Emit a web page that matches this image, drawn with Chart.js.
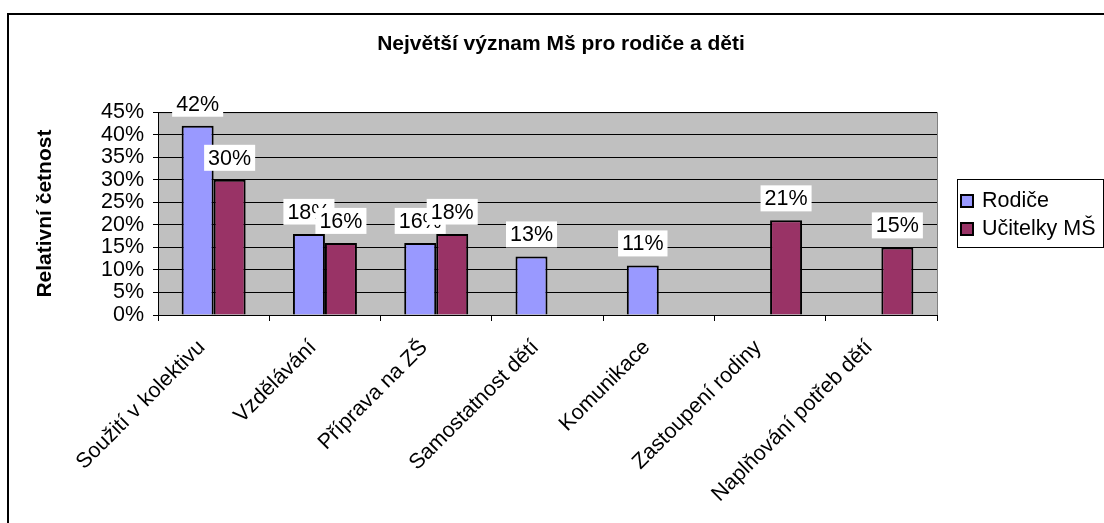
<!DOCTYPE html>
<html>
<head>
<meta charset="utf-8">
<script src="https://cdn.jsdelivr.net/npm/chart.js@4/dist/chart.umd.min.js"></script>
<style>
html,body{margin:0;padding:0;background:#fff;}
#wrap{width:1104px;height:523px;position:relative;}
</style>
</head>
<body>
<div id="wrap"><canvas id="c" width="1104" height="523"></canvas></div>
<script>
const categories = ["Soužití v kolektivu", "Vzdělávání", "Příprava na ZŠ", "Samostatnost dětí", "Komunikace", "Zastoupení rodiny", "Naplňování potřeb dětí"];
const rodice = [42, 18, 16, 13, 11, null, null];
const ucitelky = [30, 16, 18, null, null, 21, 15];
const seriesNames = ["Rodiče", "Učitelky MŠ"];
const chartTitle = "Největší význam Mš pro rodiče a děti";
const yTitle = "Relativní četnost";
const FONT = "'Liberation Sans', Arial, sans-serif";
const FS = 21.5;

const framePlugin = {
  id: 'frame',
  beforeDraw(chart) {
    const {ctx, chartArea: a} = chart;
    ctx.save();
    ctx.fillStyle = '#fff';
    ctx.fillRect(0, 0, chart.width, chart.height);
    ctx.strokeStyle = '#000';
    ctx.lineWidth = 2;
    ctx.beginPath();
    ctx.moveTo(8, chart.height + 2);
    ctx.lineTo(8, 14);
    ctx.lineTo(chart.width + 2, 14);
    ctx.stroke();
    ctx.fillStyle = '#C0C0C0';
    ctx.fillRect(a.left, a.top, a.right - a.left, a.bottom - a.top);
    ctx.strokeStyle = '#808080';
    ctx.lineWidth = 1;
    ctx.strokeRect(a.left + 0.5, a.top + 0.5, a.right - a.left, a.bottom - a.top);
    ctx.restore();
  }
};

const labelPlugin = {
  id: 'vlabels',
  afterDatasetsDraw(chart) {
    const {ctx} = chart;
    ctx.save();
    ctx.font = FS + 'px ' + FONT;
    ctx.textAlign = 'center';
    ctx.textBaseline = 'middle';
    chart.data.datasets.forEach((ds, di) => {
      const meta = chart.getDatasetMeta(di);
      meta.data.forEach((bar, i) => {
        const v = ds.data[i];
        if (v === null || v === undefined) return;
        const txt = v + '%';
        const w = ctx.measureText(txt).width + 8;
        const h = 26;
        const bottom = bar.y - 9;
        const cy = bottom - h / 2;
        ctx.fillStyle = '#fff';
        ctx.fillRect(bar.x - w / 2, bottom - h, w, h);
        ctx.fillStyle = '#000';
        ctx.fillText(txt, bar.x, cy + 1);
      });
    });
    ctx.restore();
  }
};

const legendPlugin = {
  id: 'customLegend',
  afterDraw(chart) {
    const {ctx} = chart;
    ctx.save();
    ctx.strokeStyle = '#000';
    ctx.lineWidth = 1;
    ctx.strokeRect(957.5, 179.5, 146, 68);
    ctx.font = FS + 'px ' + FONT;
    ctx.textAlign = 'left';
    ctx.textBaseline = 'middle';
    const ys = [201, 229];
    chart.data.datasets.forEach((ds, i) => {
      const y = ys[i];
      ctx.fillStyle = ds.backgroundColor;
      ctx.fillRect(961, y - 6, 12, 12);
      ctx.lineWidth = 2;
      ctx.strokeStyle = '#000';
      ctx.strokeRect(961, y - 6, 12, 12);
      ctx.fillStyle = '#000';
      ctx.fillText(ds.label, 982, y);
    });
    ctx.restore();
  }
};

new Chart(document.getElementById('c'), {
  type: 'bar',
  data: {
    labels: categories,
    datasets: [
      {label: seriesNames[0], data: rodice, backgroundColor: '#9999FF', borderColor: '#000', borderWidth: 2, categoryPercentage: 0.575, barPercentage: 1},
      {label: seriesNames[1], data: ucitelky, backgroundColor: '#993366', borderColor: '#000', borderWidth: 2, categoryPercentage: 0.575, barPercentage: 1}
    ]
  },
  options: {
    responsive: false,
    animation: false,
    layout: {padding: {left: 18, right: 0, top: 0, bottom: 0}},
    plugins: {
      legend: {display: false},
      tooltip: {enabled: false},
      title: {
        display: true,
        text: chartTitle,
        color: '#000',
        font: {family: FONT, size: 21, weight: 'bold'},
        padding: {top: 32, bottom: 55}
      }
    },
    scales: {
      x: {
        grid: {display: true, drawOnChartArea: false, drawTicks: true, tickLength: 6, color: '#000', offset: true},
        border: {display: true, color: '#000', width: 1},
        ticks: {color: '#000', font: {family: FONT, size: FS}, minRotation: 45, maxRotation: 45, autoSkip: false, padding: 14, labelOffset: -12},
        afterFit(s) { s.height = 208; }
      },
      y: {
        min: 0, max: 45,
        grid: {color: '#000', lineWidth: 1, tickLength: 5, drawTicks: true},
        border: {display: true, color: '#000', width: 1},
        ticks: {stepSize: 5, autoSkip: false, color: '#000', font: {family: FONT, size: FS, lineHeight: 1}, padding: 9, callback: v => v + '%'},
        title: {display: true, text: yTitle, color: '#000', font: {family: FONT, size: 21, weight: 'bold'}, padding: {top: 15, bottom: 0}},
        afterFit(s) { s.width = 140; }
      },
      yRight: {
        position: 'right',
        display: true,
        grid: {display: false},
        border: {display: false},
        ticks: {display: false},
        afterFit(s) { s.width = 167; }
      }
    }
  },
  plugins: [framePlugin, labelPlugin, legendPlugin]
});
</script>
</body>
</html>
